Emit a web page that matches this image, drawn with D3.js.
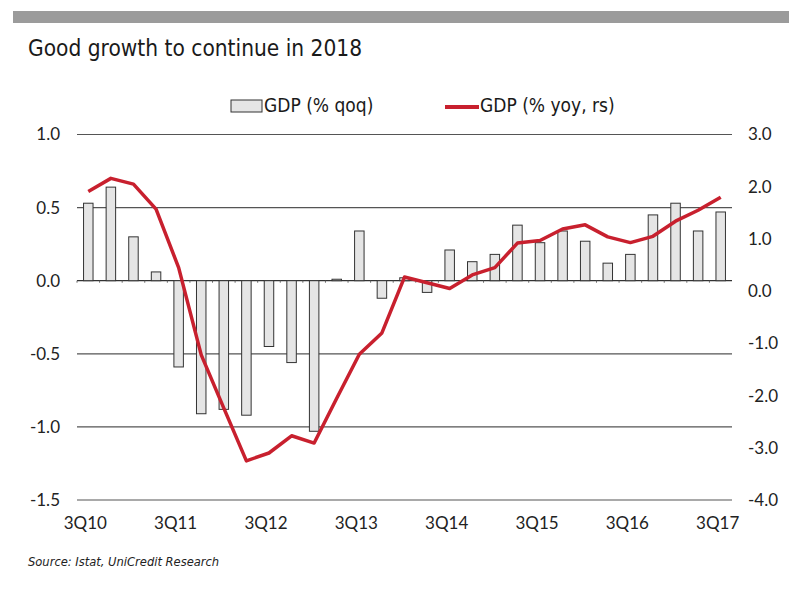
<!DOCTYPE html>
<html>
<head>
<meta charset="utf-8">
<script src="https://cdn.jsdelivr.net/npm/d3@7"></script>
<style>
  body { margin: 0; background: #fff; }
  .ax { font-family: Lato, "Open Sans", sans-serif; font-size: 17px; fill: #222; }
  .cond { font-family: "Liberation Sans Narrow", "DejaVu Sans Condensed", sans-serif; }
</style>
</head>
<body>
<div id="chart"></div>
<script>
// quarters 3Q10 .. 3Q17
var quarters = ["3Q10","4Q10","1Q11","2Q11","3Q11","4Q11","1Q12","2Q12","3Q12","4Q12",
  "1Q13","2Q13","3Q13","4Q13","1Q14","2Q14","3Q14","4Q14","1Q15","2Q15",
  "3Q15","4Q15","1Q16","2Q16","3Q16","4Q16","1Q17","2Q17","3Q17"];
var tickQuarters = ["3Q10","3Q11","3Q12","3Q13","3Q14","3Q15","3Q16","3Q17"];

// GDP % qoq (left scale)
var qoq = [0.53, 0.64, 0.30, 0.06, -0.59, -0.91, -0.88, -0.92, -0.45, -0.56,
  -1.03, 0.01, 0.34, -0.12, 0.02, -0.08, 0.21, 0.13, 0.18, 0.38,
  0.26, 0.34, 0.27, 0.12, 0.18, 0.45, 0.53, 0.34, 0.47];

// GDP % yoy (right scale)
var yoy = [1.91, 2.16, 2.05, 1.57, 0.45, -1.22, -2.24, -3.25, -3.1, -2.77,
  -2.91, -2.05, -1.21, -0.80, 0.27, 0.16, 0.05, 0.31, 0.45, 0.92,
  0.97, 1.19, 1.27, 1.04, 0.93, 1.05, 1.34, 1.55, 1.80];

var leftTicks = [-1.5, -1.0, -0.5, 0.0, 0.5, 1.0];
var rightTicks = [-4, -3, -2, -1, 0, 1, 2, 3];

var w = 800, h = 591;
var plotLeft = 77, plotRight = 732, plotTop = 134.5, plotBottom = 500;
var red = "#c8202e";

var svg = d3.select("#chart").append("svg")
    .attr("width", w)
    .attr("height", h);

// grey band at the top
svg.append("rect")
    .attr("x", 13).attr("y", 11)
    .attr("width", 776).attr("height", 12)
    .attr("fill", "#9b9b9b");

svg.append("text")
    .attr("class", "cond")
    .attr("x", 28).attr("y", 56)
    .attr("font-size", 22.5)
    .attr("fill", "#1a1a1a")
    .text("Good growth to continue in 2018");

var x = d3.scaleBand().domain(quarters).range([plotLeft, plotRight]);
var yL = d3.scaleLinear().domain([-1.5, 1.0]).range([plotBottom, plotTop]);
var yR = d3.scaleLinear().domain([-4, 3]).range([plotBottom, plotTop]);

// gridlines
svg.selectAll(".grid")
    .data(leftTicks)
    .enter()
    .append("line")
    .attr("x1", plotLeft).attr("x2", plotRight)
    .attr("y1", function (d) { return yL(d); })
    .attr("y2", function (d) { return yL(d); })
    .attr("stroke", function (d) { return d === 0 ? "#333" : "#555"; })
    .attr("stroke-width", 1.2);

// left labels
svg.selectAll(".ltick")
    .data(leftTicks)
    .enter()
    .append("text")
    .attr("class", "ax")
    .attr("x", 60)
    .attr("y", function (d) { return yL(d); })
    .attr("dy", "0.35em")
    .attr("text-anchor", "end")
    .text(function (d) { return d.toFixed(1); });

// right labels
svg.selectAll(".rtick")
    .data(rightTicks)
    .enter()
    .append("text")
    .attr("class", "ax")
    .attr("x", 748)
    .attr("y", function (d) { return yR(d); })
    .attr("dy", "0.35em")
    .text(function (d) { return d.toFixed(1); });

// bars
var bw = x.bandwidth() * 0.42;
svg.selectAll(".bar")
    .data(qoq)
    .enter()
    .append("rect")
    .attr("x", function (d, i) { return x(quarters[i]) + x.bandwidth() / 2 - bw / 2; })
    .attr("y", function (d) { return yL(Math.max(0, d)); })
    .attr("width", bw)
    .attr("height", function (d) { return Math.abs(yL(d) - yL(0)); })
    .attr("fill", "#e5e5e5")
    .attr("stroke", "#333")
    .attr("stroke-width", 1);

// small ticks on the zero line
svg.selectAll(".ztick")
    .data(quarters)
    .enter()
    .append("line")
    .attr("x1", function (d) { return x(d); })
    .attr("x2", function (d) { return x(d); })
    .attr("y1", yL(0)).attr("y2", yL(0) + 2)
    .attr("stroke", "#666");

// yoy line
var line = d3.line()
    .x(function (d, i) { return x(quarters[i]) + x.bandwidth() / 2; })
    .y(function (d) { return yR(d); });

svg.append("path")
    .datum(yoy)
    .attr("d", line)
    .attr("fill", "none")
    .attr("stroke", red)
    .attr("stroke-width", 3.5)
    .attr("stroke-linejoin", "round");

// x labels
svg.selectAll(".xlab")
    .data(tickQuarters)
    .enter()
    .append("text")
    .attr("class", "ax")
    .attr("x", function (d) { return x(d) + x.bandwidth() / 2 - 3; })
    .attr("y", 529)
    .attr("text-anchor", "middle")
    .text(function (d) { return d; });

// legend
svg.append("rect")
    .attr("x", 231).attr("y", 100)
    .attr("width", 31).attr("height", 12)
    .attr("fill", "#e5e5e5")
    .attr("stroke", "#333");
svg.append("text")
    .attr("class", "cond")
    .attr("x", 264).attr("y", 112)
    .attr("font-size", 19)
    .attr("fill", "#1a1a1a")
    .text("GDP (% qoq)");
svg.append("line")
    .attr("x1", 445).attr("x2", 479)
    .attr("y1", 107).attr("y2", 107)
    .attr("stroke", red)
    .attr("stroke-width", 4);
svg.append("text")
    .attr("class", "cond")
    .attr("x", 480).attr("y", 112)
    .attr("font-size", 19)
    .attr("fill", "#1a1a1a")
    .text("GDP (% yoy, rs)");

// source
svg.append("text")
    .attr("class", "cond")
    .attr("x", 28).attr("y", 566)
    .attr("font-size", 12.8)
    .attr("font-style", "italic")
    .attr("fill", "#222")
    .text("Source: Istat, UniCredit Research");
</script>
</body>
</html>
